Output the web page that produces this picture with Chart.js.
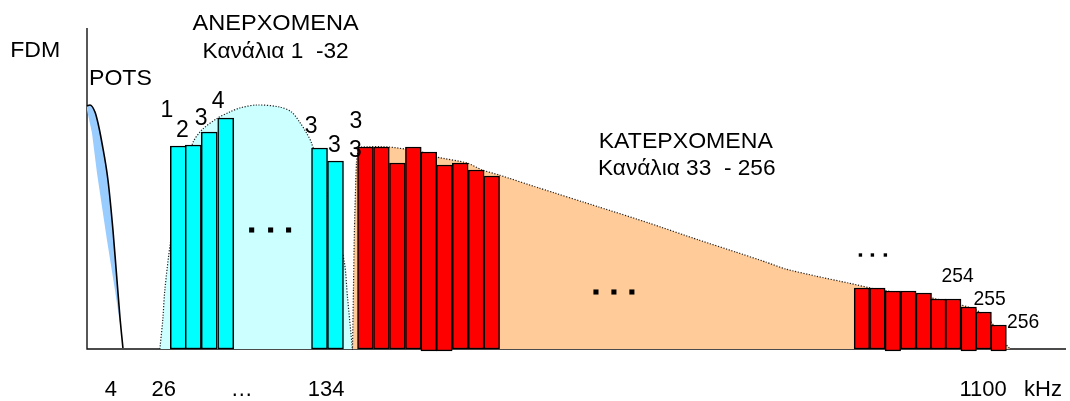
<!DOCTYPE html>
<html>
<head>
<meta charset="utf-8">
<script src="https://cdn.jsdelivr.net/npm/chart.js@4.4.1/dist/chart.umd.min.js"></script>
<style>
html,body{margin:0;padding:0;background:#fff;}
#wrap{width:1070px;height:401px;position:relative;}
</style>
</head>
<body>
<div id="wrap"><canvas id="c"></canvas></div>
<script>
// ---------- data (x = position along frequency axis, y = level) ----------
// POTS band: outline curve and inner (left) edge of the shaded wedge
const potsCurveX = [0, 3, 8, 11, 15, 21, 26, 29, 33, 36];
const potsCurveY = [243, 244, 237, 226, 206, 169, 119, 82, 32, 1];
const potsEdgeX  = [0, 5, 10, 20, 28, 35, 36];
const potsEdgeY  = [239, 216, 176, 109, 59, 12, 1];

// Upstream envelope (channels 1-32)
const upEnvX = [73, 76, 78, 84, 95, 106, 115, 131, 143, 153, 170, 193, 205, 213, 220, 225, 238, 250, 258, 261, 266];
const upEnvY = [0, 30, 59, 109, 170, 206, 219, 231, 237, 241, 244, 242, 237, 227, 216, 206, 165, 120, 86, 52, 0];

// Downstream envelope (channels 33-256)
const downEnvX = [266, 267, 268, 270, 272, 275, 303, 336, 350, 381, 396, 413, 453, 513, 563, 613, 650, 680, 700, 730, 763, 790, 846, 876, 891, 906, 918, 925];
const downEnvY = [-1, 60, 120, 186, 200, 202, 202, 197, 192, 186, 179, 174, 161, 142, 126, 109, 97, 87, 80, 73, 66, 60, 51, 44, 39, 27, 8, 0];

// Upstream channel bars
const upBarX      = [91.5, 106.5, 122.5, 139, 233, 249];
const upBarTop    = [203, 204, 217, 231, 201, 188];
const upBarBottom = [0, 0, 0, 0, 0, 0];

// Downstream channel bars (first group)
const dnBarX      = [279, 295, 311, 327, 342.5, 358, 374, 390, 405.5];
const dnBarTop    = [202, 202, 186, 202, 197, 184, 186, 179, 173];
const dnBarBottom = [0, 0, 0, 0, -2, -2, 0, 0, 0];

// Downstream channel bars (last group)
const dnBar2X      = [776.5, 792, 807.5, 823, 838.5, 853, 868, 883.5, 898.5, 913.5];
const dnBar2Top    = [61, 61, 58, 58, 56, 50, 50, 42, 37, 24];
const dnBar2Bottom = [0, 0, -2, 0, 0, 0, 0, -2, 0, -2];

// ellipsis markers
const upDotsX = [165, 184, 202];     const upDotsY = [119, 119, 119];
const dnDotsX = [510, 528, 546];     const dnDotsY = [57, 57, 57];
const endDotsX = [775, 787, 800];    const endDotsY = [94, 94, 94];

// axis tick labels
const tickLabels = ['4', '26', '…', '134', '1100', 'kHz'];
const tickPos    = [24, 77, 155, 239.5, 898, 958];

// ---------- presentation ----------
const FONT = '"Liberation Sans", Arial, Helvetica, sans-serif';
const annotations = [
  {t:'FDM', x:-77, y:292, a:'left', s:22, sx:1.05},
  {t:'POTS', x:2, y:264, a:'left', s:22, sx:1.05},
  {t:'ΑΝΕΡΧΟΜΕΝΑ', x:189, y:319, a:'center', s:22, sx:1.07},
  {t:'Κανάλια 1  -32', x:189, y:291, a:'center', s:22, sx:1.03},
  {t:'ΚΑΤΕΡΧΟΜΕΝΑ', x:600, y:201, a:'center', s:22, sx:1.05},
  {t:'Κανάλια 33  - 256', x:601, y:174, a:'center', s:22, sx:1.03},
  {t:'1', x:80, y:232, a:'center', s:23, sx:1},
  {t:'2', x:95.5, y:212, a:'center', s:23, sx:1},
  {t:'3', x:114.5, y:224, a:'center', s:23, sx:1},
  {t:'4', x:131.5, y:241, a:'center', s:23, sx:1},
  {t:'3', x:224.5, y:216, a:'center', s:23, sx:1},
  {t:'3', x:248, y:197, a:'center', s:23, sx:1},
  {t:'3', x:269.5, y:221, a:'center', s:23, sx:1},
  {t:'3', x:269, y:192, a:'center', s:23, sx:1},
  {t:'254', x:872.5, y:67, a:'center', s:21, sx:0.92},
  {t:'255', x:904.5, y:44, a:'center', s:21, sx:0.92},
  {t:'256', x:938, y:21, a:'center', s:21, sx:0.92}
];

const pts = (xs, ys) => xs.map((x, i) => ({x, y: ys[i]}));
const bars = (xs, lo, hi) => xs.map((x, i) => ({x, y: [lo[i], hi[i]]}));

const axesPlugin = {
  id: 'axesLines',
  beforeDatasetsDraw(chart) {
    const {ctx, scales: {x, y}} = chart;
    ctx.save();
    ctx.strokeStyle = '#111';
    ctx.lineWidth = 1.4;
    ctx.beginPath();
    ctx.moveTo(x.getPixelForValue(0), y.getPixelForValue(321));
    ctx.lineTo(x.getPixelForValue(0), y.getPixelForValue(0));
    ctx.lineTo(x.getPixelForValue(981), y.getPixelForValue(0));
    ctx.stroke();
    ctx.restore();
  }
};

const textPlugin = {
  id: 'texts',
  afterDraw(chart) {
    const {ctx, scales: {x, y}} = chart;
    ctx.save();
    ctx.fillStyle = '#000';
    ctx.textBaseline = 'alphabetic';
    const draw = (t, px, py, size, sx, align) => {
      ctx.save();
      ctx.font = size + 'px ' + FONT;
      ctx.translate(px, py);
      ctx.scale(sx, 1);
      ctx.textAlign = align;
      ctx.fillText(t, 0, 0);
      ctx.restore();
    };
    annotations.forEach(a => draw(a.t, x.getPixelForValue(a.x), y.getPixelForValue(a.y), a.s, a.sx, a.a));
    const by = y.getPixelForValue(0) + 47;
    tickLabels.forEach((t, i) => draw(t, x.getPixelForValue(tickPos[i]), by, 22, 1.0, 'center'));
    ctx.restore();
  }
};

const dotted = {borderColor: '#222', borderWidth: 1.2, borderDash: [1.2, 1.6]};

new Chart(document.getElementById('c'), {
  type: 'bar',
  data: {
    datasets: [
      // ellipsis markers
      {type:'scatter', data: pts(upDotsX, upDotsY), pointStyle:'rect', pointRadius:3.6, backgroundColor:'#000', borderWidth:0, order:1, clip:false},
      {type:'scatter', data: pts(dnDotsX, dnDotsY), pointStyle:'rect', pointRadius:3.6, backgroundColor:'#000', borderWidth:0, order:1, clip:false},
      {type:'scatter', data: pts(endDotsX, endDotsY), pointStyle:'rect', pointRadius:2.4, backgroundColor:'#000', borderWidth:0, order:1, clip:false},
      // channel bars
      {type:'bar', data: bars(upBarX, upBarBottom, upBarTop), backgroundColor:'#00FFFF', borderColor:'#000', borderWidth:1.5, borderSkipped:false, barThickness:16, grouped:false, order:3, clip:false},
      {type:'bar', data: bars(dnBarX, dnBarBottom, dnBarTop), backgroundColor:'#FF0000', borderColor:'#000', borderWidth:1.5, borderSkipped:false, barThickness:15.8, grouped:false, order:3, clip:false},
      {type:'bar', data: bars(dnBar2X, dnBar2Bottom, dnBar2Top), backgroundColor:'#FF0000', borderColor:'#000', borderWidth:1.5, borderSkipped:false, barThickness:15.5, grouped:false, order:3, clip:false},
      // envelopes
      {type:'line', data: pts(downEnvX, downEnvY), backgroundColor:'#FFCC99', fill:'origin', pointRadius:0, tension:0.2, ...dotted, order:5, clip:false},
      {type:'line', data: pts(upEnvX, upEnvY), backgroundColor:'#CCFFFF', fill:'origin', pointRadius:0, tension:0.3, ...dotted, order:6, clip:false},
      // POTS
      {type:'line', data: pts(potsCurveX, potsCurveY), backgroundColor:'#99CCFF', fill:'+1', borderColor:'#000', borderWidth:1.6, pointRadius:0, cubicInterpolationMode:'monotone', order:7, clip:false},
      {type:'line', data: pts(potsEdgeX, potsEdgeY), backgroundColor:'transparent', borderWidth:0, fill:false, pointRadius:0, order:8, clip:false}
    ]
  },
  options: {
    responsive: true,
    maintainAspectRatio: false,
    animation: false,
    layout: {padding: {left: 87, right: 2, top: 28, bottom: 52}},
    scales: {
      x: {type:'linear', min:0, max:981, display:false, offset:false},
      y: {type:'linear', min:0, max:321, display:false}
    },
    plugins: {legend:{display:false}, tooltip:{enabled:false}}
  },
  plugins: [axesPlugin, textPlugin]
});
</script>
</body>
</html>
